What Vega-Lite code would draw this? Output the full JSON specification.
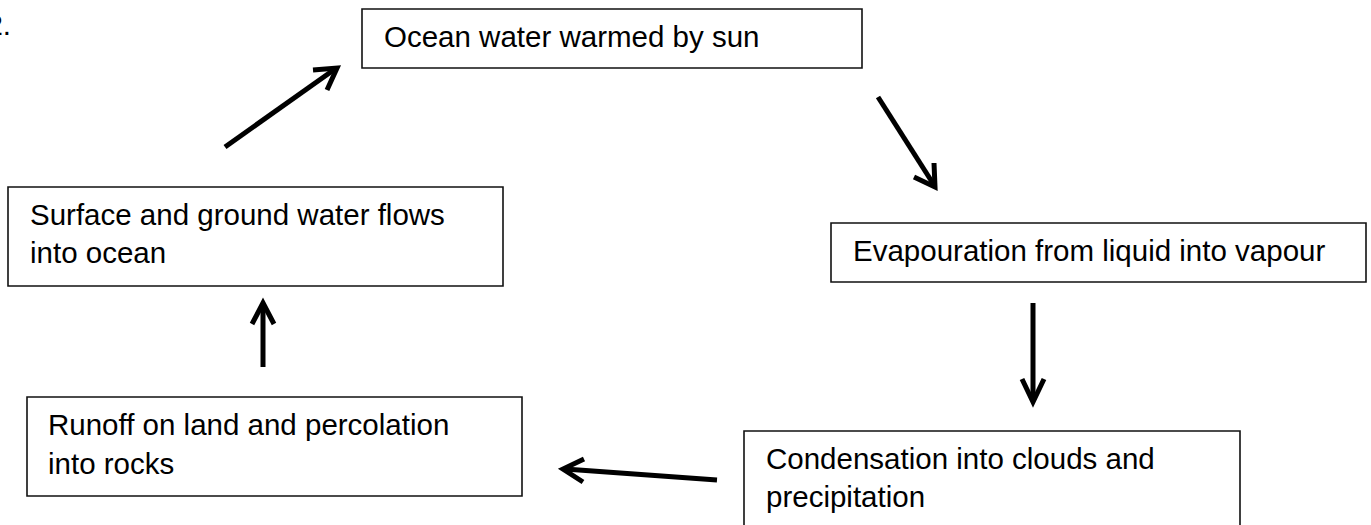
{
  "$schema": "https://vega.github.io/schema/vega-lite/v6.json",
  "width": 1371,
  "height": 525,
  "padding": 0,
  "autosize": {"type": "none"},
  "background": "white",
  "config": {"view": {"stroke": null}},
  "datasets": {
    "boxes": [
      {"name": "ocean", "x": 362, "x2": 862, "y": 9, "y2": 68},
      {"name": "evap", "x": 831, "x2": 1366, "y": 223, "y2": 282},
      {"name": "cond", "x": 744, "x2": 1240, "y": 431, "y2": 545},
      {"name": "runoff", "x": 27, "x2": 522, "y": 397, "y2": 496},
      {"name": "surface", "x": 8, "x2": 503, "y": 187, "y2": 286}
    ],
    "labels": [
      {"x": 11, "y": 35, "text": "2.", "align": "right"},
      {"x": 384, "y": 47, "text": "Ocean water warmed by sun", "align": "left"},
      {"x": 853, "y": 261, "text": "Evapouration from liquid into vapour", "align": "left"},
      {"x": 766, "y": 469, "text": "Condensation into clouds and", "align": "left"},
      {"x": 766, "y": 507, "text": "precipitation", "align": "left"},
      {"x": 48, "y": 435, "text": "Runoff on land and percolation", "align": "left"},
      {"x": 48, "y": 474, "text": "into rocks", "align": "left"},
      {"x": 30, "y": 225, "text": "Surface and ground water flows", "align": "left"},
      {"x": 30, "y": 263, "text": "into ocean", "align": "left"}
    ],
    "shafts": [
      {"arrow": "a1", "x": 225, "y": 147, "x2": 335, "y2": 69},
      {"arrow": "a2", "x": 878, "y": 97, "x2": 934, "y2": 185},
      {"arrow": "a3", "x": 1033, "y": 303, "x2": 1033, "y2": 400},
      {"arrow": "a4", "x": 717, "y": 480, "x2": 565, "y2": 469},
      {"arrow": "a5", "x": 263, "y": 367, "x2": 263, "y2": 305}
    ],
    "heads": [
      {"arrow": "a1", "ord": 1, "x": 313, "y": 70},
      {"arrow": "a1", "ord": 2, "x": 337, "y": 68},
      {"arrow": "a1", "ord": 3, "x": 327, "y": 90},
      {"arrow": "a2", "ord": 1, "x": 934, "y": 163},
      {"arrow": "a2", "ord": 2, "x": 935, "y": 187},
      {"arrow": "a2", "ord": 3, "x": 914, "y": 177},
      {"arrow": "a3", "ord": 1, "x": 1022, "y": 379},
      {"arrow": "a3", "ord": 2, "x": 1033, "y": 402},
      {"arrow": "a3", "ord": 3, "x": 1044, "y": 379},
      {"arrow": "a4", "ord": 1, "x": 584, "y": 459},
      {"arrow": "a4", "ord": 2, "x": 563, "y": 469},
      {"arrow": "a4", "ord": 3, "x": 583, "y": 482},
      {"arrow": "a5", "ord": 1, "x": 252, "y": 324},
      {"arrow": "a5", "ord": 2, "x": 263, "y": 303},
      {"arrow": "a5", "ord": 3, "x": 274, "y": 324}
    ]
  },
  "layer": [
    {
      "data": {"name": "boxes"},
      "mark": {"type": "rect", "fill": "white", "stroke": "#111111", "strokeWidth": 1.6},
      "encoding": {
        "x": {"field": "x", "type": "quantitative", "axis": null, "scale": {"domain": [0, 1371], "nice": false, "zero": false}},
        "x2": {"field": "x2"},
        "y": {"field": "y", "type": "quantitative", "axis": null, "scale": {"domain": [0, 525], "reverse": true, "nice": false, "zero": false}},
        "y2": {"field": "y2"}
      }
    },
    {
      "data": {"name": "shafts"},
      "mark": {"type": "rule", "stroke": "black", "strokeWidth": 5, "strokeCap": "butt"},
      "encoding": {
        "x": {"field": "x", "type": "quantitative"},
        "x2": {"field": "x2"},
        "y": {"field": "y", "type": "quantitative"},
        "y2": {"field": "y2"}
      }
    },
    {
      "data": {"name": "heads"},
      "mark": {"type": "line", "stroke": "black", "strokeWidth": 5, "strokeJoin": "miter", "strokeCap": "butt"},
      "encoding": {
        "x": {"field": "x", "type": "quantitative"},
        "y": {"field": "y", "type": "quantitative"},
        "detail": {"field": "arrow", "type": "nominal"},
        "order": {"field": "ord", "type": "quantitative"}
      }
    },
    {
      "data": {"name": "labels"},
      "transform": [{"filter": "datum.align == 'left'"}],
      "mark": {"type": "text", "font": "Liberation Sans", "fontSize": 29.5, "align": "left", "baseline": "alphabetic", "color": "black"},
      "encoding": {
        "x": {"field": "x", "type": "quantitative"},
        "y": {"field": "y", "type": "quantitative"},
        "text": {"field": "text"}
      }
    },
    {
      "data": {"name": "labels"},
      "transform": [{"filter": "datum.align == 'right'"}],
      "mark": {"type": "text", "font": "Liberation Sans", "fontSize": 29.5, "align": "right", "baseline": "alphabetic", "color": "black"},
      "encoding": {
        "x": {"field": "x", "type": "quantitative"},
        "y": {"field": "y", "type": "quantitative"},
        "text": {"field": "text"}
      }
    }
  ]
}
